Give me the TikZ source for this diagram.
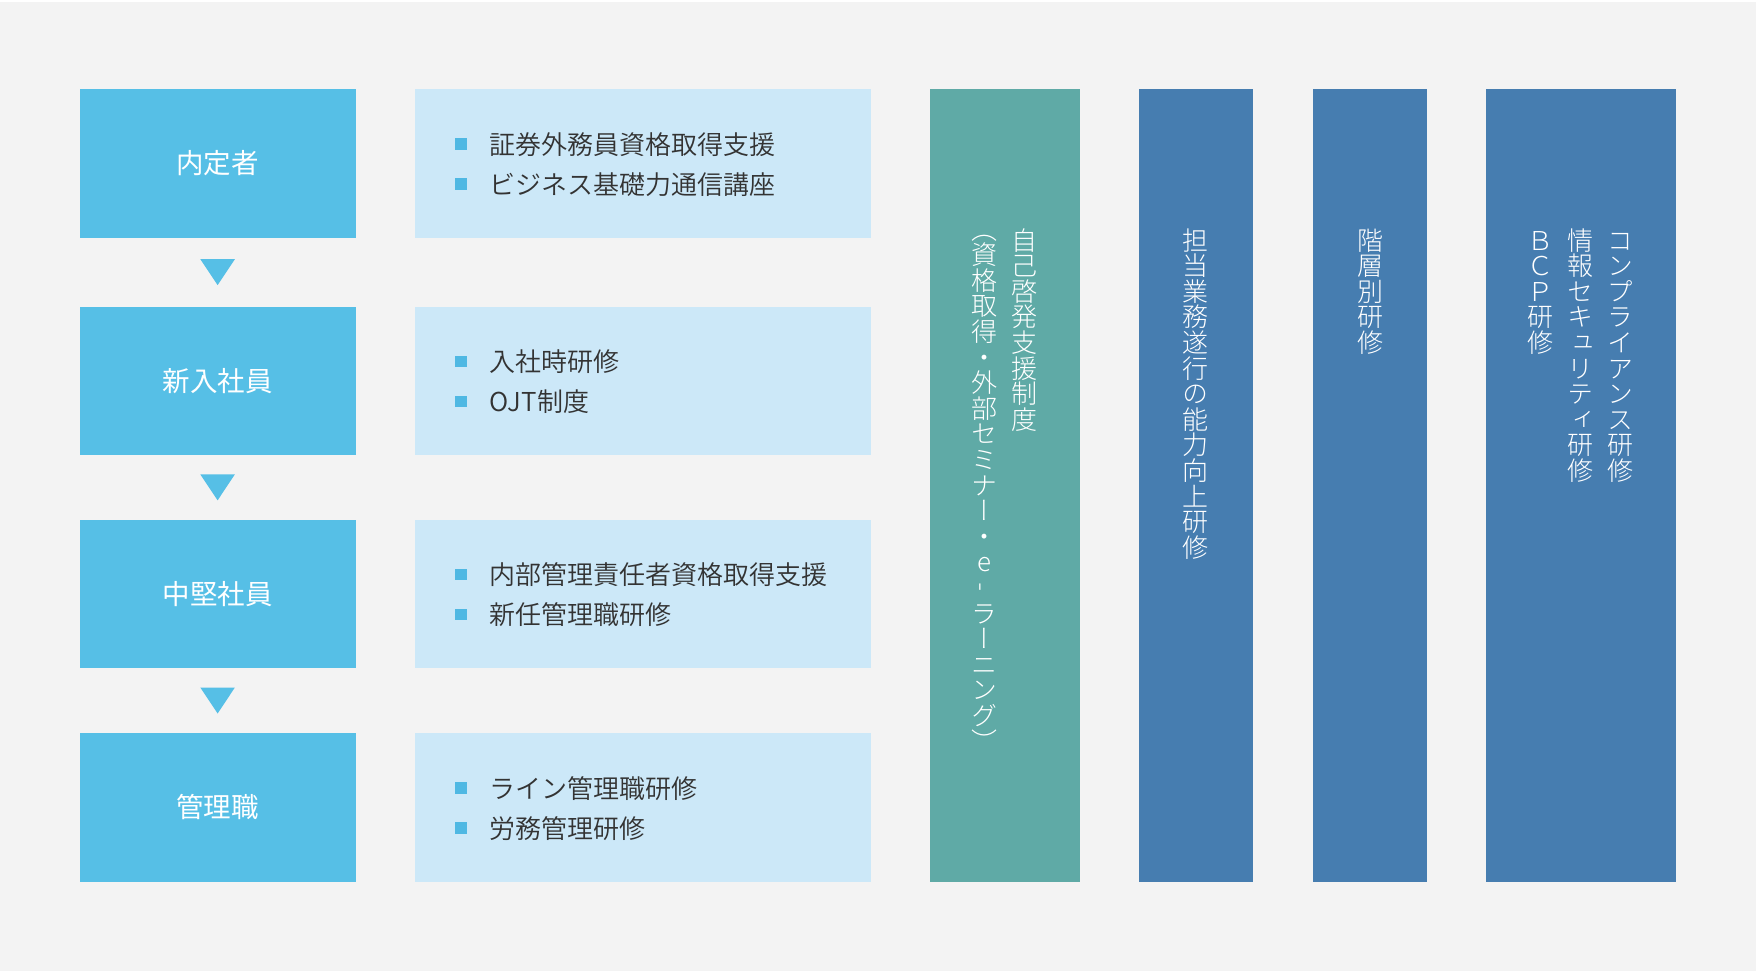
\documentclass[tikz,border=0pt]{standalone}
\usepackage{fontspec}
\usepackage{graphicx}
\newfontfamily\jp{Noto Sans CJK JP}
\newfontfamily\jpl{Noto Sans CJK JP DemiLight}
\newfontfamily\jpv{Noto Sans CJK JP Light}[RawFeature=+vert]
\usetikzlibrary{calc}
\definecolor{bgc}{HTML}{F3F3F3}
\definecolor{stagec}{HTML}{56BFE6}
\definecolor{detailc}{HTML}{CCE8F8}
\definecolor{colTeal}{HTML}{5FAAA6}
\definecolor{colBlue}{HTML}{467DB0}
\definecolor{inkc}{HTML}{333333}
\definecolor{bulletc}{HTML}{4FB8E3}
\newcommand\vfirst{\rule{0pt}{22.9pt}}
\newcommand\vhyph{\raisebox{0.25em}{\rotatebox{90}{-}}}
\begin{document}
\begin{tikzpicture}[x=1pt,y=-1pt,
  stagebox/.style={fill=stagec, minimum width=276pt, minimum height=148.6pt, inner sep=0pt,
    text=white, font=\jp\fontsize{27.5}{30}\selectfont},
  detailbox/.style={fill=detailc, minimum width=456pt, minimum height=148.6pt, inner sep=0pt},
  itemtext/.style={anchor=base west, inner sep=0pt, text=inkc, font=\jpl\fontsize{26}{30}\selectfont},
  bulletsq/.style={fill=bulletc, minimum size=11.5pt, inner sep=0pt},
  colbox/.style={minimum height=792.7pt, inner sep=0pt},
  vtext/.style={anchor=north, inner sep=0pt, align=center, text=white,
    font=\jpv\fontsize{26}{25.6}\selectfont},
  tri/.style={fill=stagec}
]
\fill[bgc] (0,0) rectangle (1756,971);
\fill[white] (0,0) rectangle (1756,2);
\useasboundingbox (0,0) rectangle (1756,971);

% stage boxes
\node[stagebox] (s1) at (217.6,163.4) {内定者};
\node[stagebox] (s2) at (217.6,380.9) {新入社員};
\node[stagebox] (s3) at (217.6,593.8) {中堅社員};
\node[stagebox] (s4) at (217.6,807.2) {管理職};

% arrows between stages
\foreach \a/\b in {s1/s2,s2/s3,s3/s4}{
  \coordinate (m) at ($(\a.south)!0.5!(\b.north)$);
  \fill[tri] ($(m)+(-17.3,-13)$) -- ($(m)+(17.3,-13)$) -- ($(m)+(0,13)$) -- cycle;
}

% detail boxes
\node[detailbox] (d1) at (643,163.4) {};
\node[detailbox] (d2) at (643,380.9) {};
\node[detailbox] (d3) at (643,593.8) {};
\node[detailbox] (d4) at (643,807.2) {};

% items
\node[bulletsq] (b1a) at (460.8,144.2) {};
\node[bulletsq] (b1b) at (460.8,184.2) {};
\node[itemtext] (i1a) at (489.5,154.2) {証券外務員資格取得支援};
\node[itemtext] (i1b) at (489.5,194.2) {ビジネス基礎力通信講座};

\node[bulletsq] (b2a) at (460.8,361.7) {};
\node[bulletsq] (b2b) at (460.8,401.7) {};
\node[itemtext] (i2a) at (489.5,371.7) {入社時研修};
\node[itemtext] (i2b) at (489.5,411.7) {OJT制度};

\node[bulletsq] (b3a) at (460.8,574.6) {};
\node[bulletsq] (b3b) at (460.8,614.6) {};
\node[itemtext] (i3a) at (489.5,584.6) {内部管理責任者資格取得支援};
\node[itemtext] (i3b) at (489.5,624.6) {新任管理職研修};

\node[bulletsq] (b4a) at (460.8,788.0) {};
\node[bulletsq] (b4b) at (460.8,828.0) {};
\node[itemtext] (i4a) at (489.5,798.0) {ライン管理職研修};
\node[itemtext] (i4b) at (489.5,838.0) {労務管理研修};

% columns
\node[colbox, fill=colTeal, minimum width=149.5pt] (c1) at (1004.8,485.4) {};
\node[colbox, fill=colBlue, minimum width=114.5pt] (c2) at (1195.8,485.4) {};
\node[colbox, fill=colBlue, minimum width=114.6pt] (c3) at (1370,485.4) {};
\node[colbox, fill=colBlue, minimum width=189.4pt] (c4) at (1581,485.4) {};

% vertical texts
\node[vtext] (t1a) at (1024.5,227) {\vfirst 自\\己\\啓\\発\\支\\援\\制\\度};
\node[vtext] (t1b) at (984,216) {\vfirst （\\資\\格\\取\\得\\・\\外\\部\\セ\\ミ\\ナ\\ー\\・\\e\\\vhyph\\ラ\\ー\\ニ\\ン\\グ\\）};
\node[vtext] (t2) at (1195.8,227) {\vfirst 担\\当\\業\\務\\遂\\行\\の\\能\\力\\向\\上\\研\\修};
\node[vtext] (t3) at (1370,227) {\vfirst 階\\層\\別\\研\\修};
\node[vtext] (t4a) at (1620,227) {\vfirst コ\\ン\\プ\\ラ\\イ\\ア\\ン\\ス\\研\\修};
\node[vtext] (t4b) at (1580,227) {\vfirst 情\\報\\セ\\キ\\ュ\\リ\\テ\\ィ\\研\\修};
\node[vtext] (t4c) at (1540,227) {\vfirst Ｂ\\Ｃ\\Ｐ\\研\\修};
\end{tikzpicture}
\end{document}
